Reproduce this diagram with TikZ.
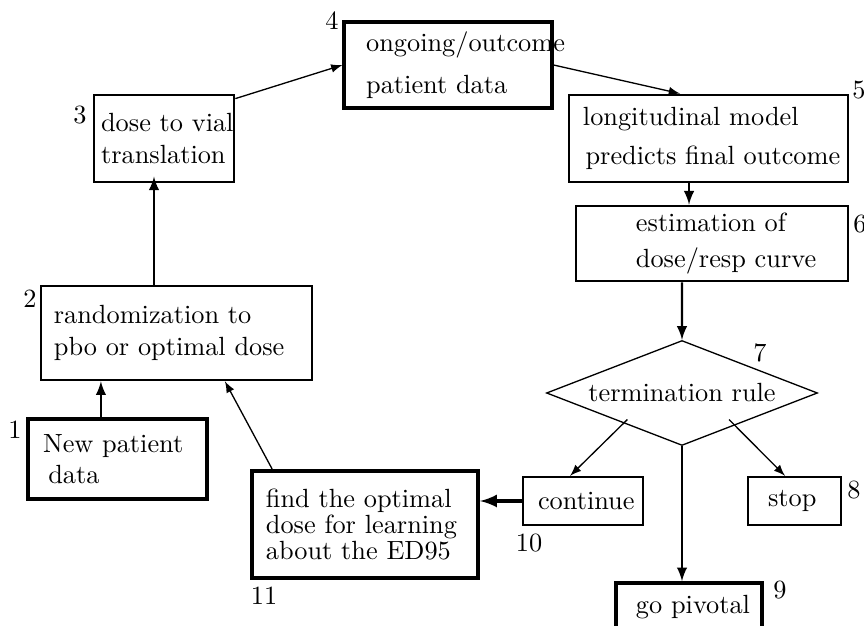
\documentclass[tikz,border=0pt]{standalone}
\usetikzlibrary{shapes.geometric}

\tikzset{
  stage/.style={draw, line width=1pt, rectangle, align=left, inner ysep=0pt},
  tag/.style={inner sep=0pt},
  thinlink/.style={-latex, line width=0.5pt},
  flow/.style={-latex, line width=0.8pt},
}

\begin{document}
\begin{tikzpicture}[x=0.38pt,y=-0.38pt]
\useasboundingbox (0,0) rectangle (864,626);

%-------------------------------------------- Boxes (left column)
\node[stage, line width=1.3pt, minimum width=68pt, minimum height=30.4pt,
      text width=56.6pt, inner xsep=5.7pt] (b1) at (117.5,459)
      {New patient\\\hspace*{2pt}data};
\node[stage, minimum width=103pt, minimum height=35.7pt,
      text width=93.2pt, inner xsep=4.9pt] (b2) at (176.5,333)
      {randomization to\\pbo or optimal dose};
\node[stage, minimum width=53.2pt, minimum height=33.1pt,
      text width=47.8pt, inner xsep=2.7pt] (b3) at (164,138.5)
      {\mbox{dose to vial}\\translation};

%-------------------------------------------- Boxes (top / right)
\node[stage, line width=1.2pt, minimum width=79pt, minimum height=32.7pt,
      text width=62.2pt, inner xsep=8.4pt] (b4) at (448,65)
      {ongoing/outcome\\[4pt]patient data};
\node[stage, minimum width=106pt, minimum height=33.1pt,
      text width=95.4pt, inner xsep=5.3pt] (b5) at (708.5,138.5)
      {longitudinal model\\[3pt]\hspace*{1pt}\mbox{predicts final outcome}};
\node[stage, minimum width=103.4pt, minimum height=28.5pt,
      text width=57.8pt, inner xsep=22.8pt] (b6) at (712,243.5)
      {\mbox{estimation of}\\[1.5pt]\mbox{dose/resp curve}};

% Decision
\node[draw, diamond, aspect=2.6, line width=0.5pt, inner sep=0pt,
      minimum width=103pt, minimum height=39.9pt] (d7) at (682,393)
      {termination rule};

%-------------------------------------------- Outcomes
\node[stage, line width=0.9pt, minimum width=45.6pt, minimum height=18.2pt,
      text width=34.2pt, inner xsep=5.7pt] (b10) at (583,501) {continue};
\node[stage, line width=0.9pt, minimum width=35.3pt, minimum height=18.2pt,
      text width=20.1pt, inner xsep=7.6pt] (b8) at (794.5,501) {stop};
\node[stage, line width=1.4pt, minimum width=55.5pt, minimum height=18.2pt,
      text width=40.3pt, inner xsep=7.6pt] (b9) at (689,607) {\mbox{go pivotal}};
\node[stage, line width=1.5pt, minimum width=85.9pt, minimum height=40.7pt,
      text width=75.3pt, inner xsep=5.3pt] (b11) at (365,524.5)
      {\mbox{find the optimal}\\[-2pt]\mbox{dose for learning}\\[-2pt]\mbox{about the ED95}};

%-------------------------------------------- Numbers
\node[tag] (n1) at (15,430) {1};
\node[tag] (n2) at (30,299) {2};
\node[tag] (n3) at (80,115) {3};
\node[tag] (n4) at (332,21) {4};
\node[tag] (n5) at (859,90) {5};
\node[tag] (n6) at (860,224) {6};
\node[tag] (n7) at (760,353) {7};
\node[tag] (n8) at (854,490) {8};
\node[tag] (n9) at (780,590) {9};
\node[tag] (n10) at (529,543) {10};
\node[tag] (n11) at (264,596) {11};

%-------------------------------------------- Arrows
\coordinate (p1) at ([xshift=-6.3pt]b1.north);
\coordinate (p2) at ([xshift=-8.55pt]b2.north);
\coordinate (p5) at ([xshift=-7.4pt]b5.south);

\draw[flow] (p1) -- (p1 |- b2.south);
\draw[flow] (p2) -- ([yshift=2.6pt]p2 |- b3.south);
\draw[thinlink] ([yshift=-1.9pt]b3.north east) -- (b4.west);
\draw[thinlink] (b4.east) -- ([xshift=-10.8pt]b5.north);
\draw[flow] (p5) -- (p5 |- b6.north);
\draw[flow] ([xshift=-11.4pt]b6.south) -- (d7.north);

\draw[thinlink] ([xshift=5.1pt]d7.south west) -- ([xshift=-4.9pt]b10.north);
\draw[thinlink] ([xshift=-8pt]d7.south east) -- ([xshift=-3.6pt]b8.north);
\draw[flow] (d7.south) -- (d7.south |- b9.north);

\draw[-latex, line width=1.2pt] (b10.west) -- (b10.west -| b11.east);
\draw[thinlink] ([xshift=-35.3pt]b11.north) -- ([xshift=18.4pt]b2.south);

\end{tikzpicture}
\end{document}
